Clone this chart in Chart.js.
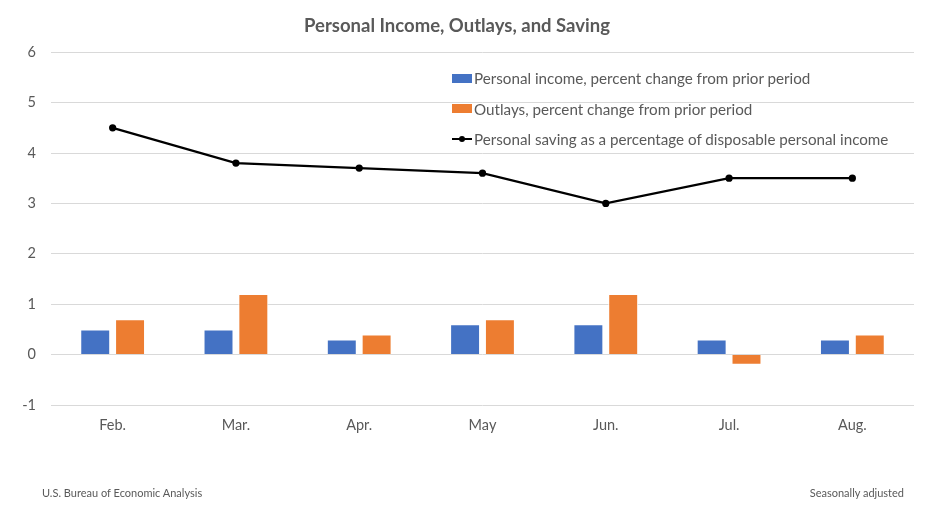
<!DOCTYPE html>
<html>
<head>
<meta charset="utf-8">
<script src="https://cdn.jsdelivr.net/npm/chart.js@4/dist/chart.umd.min.js"></script>
<style>
  html, body { margin: 0; padding: 0; background: #fff; }
  #wrap { position: relative; width: 945px; height: 509px; font-family: Lato, "Open Sans", sans-serif; color: #595959; }
  #legend { position: absolute; left: 452px; top: 63px; font-size: 15.2px; }
  #legend .item { height: 30.5px; display: flex; align-items: center; white-space: nowrap; }
  #legend .box { width: 20px; height: 9px; margin-right: 2px; }
  #legend .ln { width: 20px; height: 2px; background: #000; position: relative; margin-right: 2px; }
  #legend .ln::after { content: ""; position: absolute; left: 7px; top: -2px; width: 6px; height: 6px; border-radius: 50%; background: #000; }
  .note { position: absolute; top: 486px; font-size: 11px; }
</style>
</head>
<body>
<div id="wrap">
  <canvas id="chart" width="945" height="509"></canvas>
  <div id="legend"></div>
  <div class="note" style="left:42px">U.S. Bureau of Economic Analysis</div>
  <div class="note" style="right:41px">Seasonally adjusted</div>
</div>
<script>
const months = ['Feb.', 'Mar.', 'Apr.', 'May', 'Jun.', 'Jul.', 'Aug.'];
const incomeChange = [0.5, 0.5, 0.3, 0.6, 0.6, 0.3, 0.3];
const outlaysChange = [0.7, 1.2, 0.4, 0.7, 1.2, -0.2, 0.4];
const savingRate = [4.5, 3.8, 3.7, 3.6, 3.0, 3.5, 3.5];

const labels = {
    income: 'Personal income, percent change from prior period',
    outlays: 'Outlays, percent change from prior period',
    saving: 'Personal saving as a percentage of disposable personal income',
};

const grey = '#595959';
const fontFamily = 'Lato, "Open Sans", sans-serif';

const chart = new Chart(document.getElementById('chart'), {
    type: 'bar',
    data: {
        labels: months,
        datasets: [
            {
                type: 'line',
                label: labels.saving,
                data: savingRate,
                borderColor: '#000',
                backgroundColor: '#000',
                borderWidth: 2.25,
                pointRadius: 2.5,
                pointHoverRadius: 2.5,
                tension: 0,
                order: 0,
            },
            {
                label: labels.income,
                data: incomeChange,
                backgroundColor: '#4472C4',
                borderColor: '#fff',
                borderWidth: 1,
                order: 1,
            },
            {
                label: labels.outlays,
                data: outlaysChange,
                backgroundColor: '#ED7D31',
                borderColor: '#fff',
                borderWidth: 1,
                order: 1,
            },
        ]
    },
    options: {
        responsive: false,
        animation: false,
        layout: { padding: { left: 0, right: 31, top: 0, bottom: 0 } },
        datasets: {
            bar: { categoryPercentage: 0.565, barPercentage: 0.86 }
        },
        plugins: {
            legend: { display: false },
            tooltip: { enabled: false },
            title: {
                display: true,
                text: 'Personal Income, Outlays, and Saving',
                color: grey,
                font: { family: fontFamily, size: 18.5, weight: 'bold' },
                padding: { top: 15, bottom: 15 },
            }
        },
        scales: {
            x: {
                grid: { display: false, drawTicks: false },
                border: { display: false },
                ticks: { color: grey, font: { family: fontFamily, size: 14.5 }, padding: 12 },
                afterFit: s => { s.height = 104; }
            },
            y: {
                min: -1,
                max: 6,
                grid: { color: '#d9d9d9', drawTicks: false },
                border: { display: false },
                ticks: { stepSize: 1, color: grey, font: { family: fontFamily, size: 14.5 }, padding: 15 },
                afterFit: s => { s.width = 51; }
            }
        }
    }
});

// legend in the plot, Excel style
const legendEl = document.getElementById('legend');
[1, 2, 0].forEach(i => {
    const ds = chart.data.datasets[i];
    const item = document.createElement('div');
    item.className = 'item';
    const mark = document.createElement('span');
    if (ds.type === 'line') {
        mark.className = 'ln';
    } else {
        mark.className = 'box';
        mark.style.background = ds.backgroundColor;
    }
    item.appendChild(mark);
    item.appendChild(document.createTextNode(ds.label));
    legendEl.appendChild(item);
});
</script>
</body>
</html>
